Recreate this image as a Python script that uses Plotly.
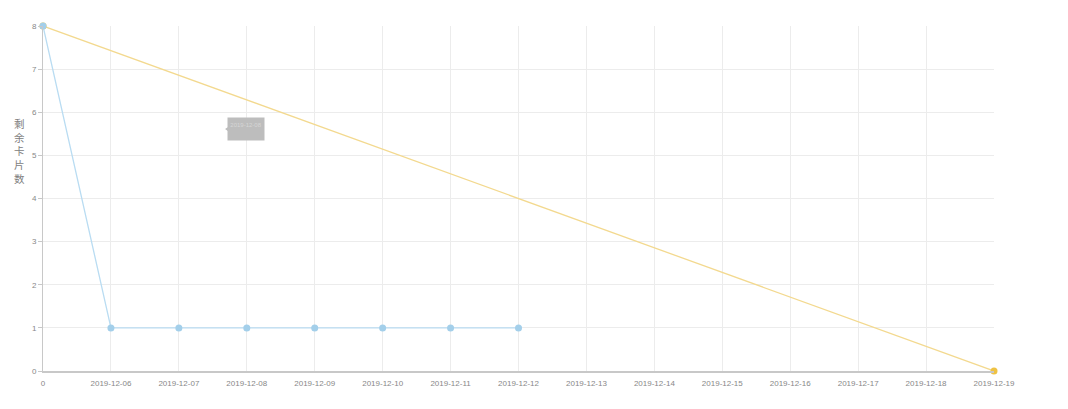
import plotly.graph_objects as go

categories = ["0", "2019-12-06", "2019-12-07", "2019-12-08", "2019-12-09", "2019-12-10",
              "2019-12-11", "2019-12-12", "2019-12-13", "2019-12-14", "2019-12-15",
              "2019-12-16", "2019-12-17", "2019-12-18", "2019-12-19"]
actual = [8, 1, 1, 1, 1, 1, 1, 1, None, None, None, None, None, None, None]
ideal = [8, None, None, None, None, None, None, None, None, None, None, None, None, None, 0]
y_ticks = [0, 1, 2, 3, 4, 5, 6, 7, 8]
y_title = "剩余卡片数"

fig = go.Figure()
fig.add_trace(go.Scatter(
    x=categories, y=ideal, mode="lines+markers", connectgaps=True,
    line=dict(color="#f3d98f", width=1.3),
    marker=dict(color="#eec244", size=7),
    cliponaxis=False, showlegend=False, hoverinfo="skip"))
fig.add_trace(go.Scatter(
    x=categories, y=actual, mode="lines+markers",
    line=dict(color="#b9dcf2", width=1.3),
    marker=dict(color="#a3cfea", size=7, symbol="circle"),
    cliponaxis=False, showlegend=False, hoverinfo="skip"))

fig.update_layout(
    width=1068, height=409,
    margin=dict(l=35, r=82, t=18, b=46),
    paper_bgcolor="white", plot_bgcolor="white",
    font=dict(family="Liberation Sans, Arial, sans-serif", color="#888", size=8),
    xaxis=dict(type="category", categoryorder="array", categoryarray=categories,
               range=[0, 14], showgrid=True, gridcolor="#ececec", gridwidth=1,
               showline=True, linecolor="#c8c8c8", linewidth=1.5,
               ticks="outside", ticklen=4, tickcolor="rgba(0,0,0,0)",
               tickfont=dict(size=8, color="#888"), zeroline=False),
    yaxis=dict(range=[0, 8], tickvals=y_ticks, showgrid=True, gridcolor="#ececec",
               showline=True, linecolor="#c8c8c8", linewidth=1,
               ticks="outside", ticklen=4, tickcolor="#c8c8c8",
               tickfont=dict(size=8, color="#888"), zeroline=False),
)

# vertical, upright y-axis title (one character per line, single text block)
plot_top, plot_h = 26, 345
fig.add_annotation(
    text="<br>".join(y_title), xref="paper", yref="paper",
    x=(19 - 43) / 951, y=(plot_top + plot_h - 151) / plot_h,
    xanchor="center", yanchor="middle", showarrow=False, borderpad=0,
    font=dict(family="Noto Sans CJK SC", size=10.5, color="#808080"))

# faint tooltip box
fig.add_annotation(
    text="2019-12-08<br>&nbsp;", xref="x", yref="y", x=2.99, y=5.61,
    xanchor="center", yanchor="middle", showarrow=False,
    width=36, height=22, bgcolor="#bdbdbd", borderpad=0,
    font=dict(size=6, color="#d6d6d6"))
fig.add_shape(type="path", xref="x", yref="y",
              path="M 2.725 5.66 L 2.68 5.61 L 2.725 5.56 Z",
              fillcolor="#bdbdbd", line=dict(width=0), layer="above")

fig.write_html("out.html")
